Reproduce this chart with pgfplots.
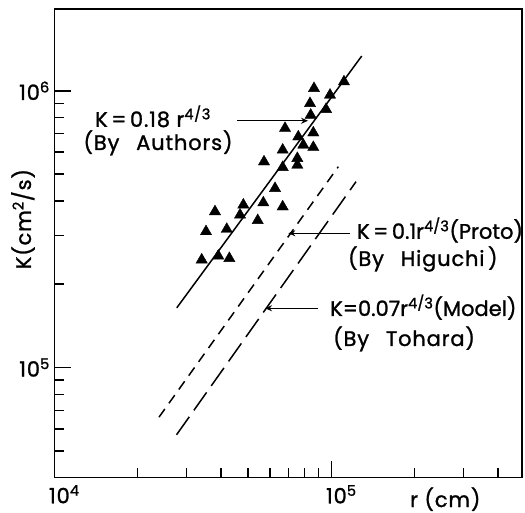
\documentclass[border=0pt]{standalone}
\usepackage{pgfplots}
\pgfplotsset{compat=1.18}
\usepackage{fontspec}
\setmainfont{Poppins}[LetterSpace=4, FakeBold=1.2]
\newfontfamily\tight{Poppins}[LetterSpace=0, FakeBold=1.2]
\usetikzlibrary{arrows.meta}

\pgfplotstableread{
r K
86590 1.020e6
98920 9.65e5
111100 1.078e6
83770 9.00e5
95700 8.57e5
84250 8.17e5
68070 7.32e5
86100 7.05e5
76010 6.82e5
79240 6.368e5
86100 6.248e5
66750 6.11e5
75390 5.70e5
75390 5.39e5
57150 5.54e5
66750 5.29e5
62630 4.44e5
56830 3.94e5
66750 3.81e5
48130 3.87e5
46820 3.56e5
54250 3.40e5
38030 3.66e5
35290 3.10e5
41930 3.16e5
39090 2.53e5
42840 2.48e5
34050 2.45e5
}\obs

\begin{document}
\begin{tikzpicture}[font=\fontsize{21}{25}\selectfont]
\begin{loglogaxis}[
  scale only axis, width=467.7pt, height=468.4pt,
  xmin=1e4, xmax=4.88e5, ymin=4e4, ymax=1.97e6,
  axis line style={line width=1.6pt},
  every tick/.style={line width=1.5pt, black},
  every minor tick/.style={line width=1.5pt, black},
  major tick length=17pt, minor tick length=10pt,
  tick pos=left, tick align=inside,
  xtick={1e4,1e5}, xticklabels={10\textsuperscript{4},10\textsuperscript{5}},
  ytick={1e5,1e6}, yticklabels={10\textsuperscript{5},10\textsuperscript{6}},
  minor xtick={2e4,3e4,4e4,5e4,6e4,7e4,8e4,9e4,2e5,3e5,4e5},
  minor ytick={5e4,6e4,7e4,8e4,9e4,2e5,3e5,4e5,5e5,6e5,7e5,8e5,9e5},
  xticklabel style={xshift=10pt, yshift=-4pt},
  yticklabel style={xshift=-1pt},
  clip=false,
]
\addplot[only marks, mark=triangle*, mark size=6.5pt, black] table[x=r, y=K] {\obs};
\addplot[black, line width=1.5pt] coordinates {(27670,164300) (128750,1.335e6)};
\addplot[black, line width=1.5pt, dash pattern=on 10pt off 7pt] coordinates {(23880,66210) (106000,531700)};
\addplot[black, line width=1.5pt, dash pattern=on 22pt off 8pt] coordinates {(27620,57150) (122800,469400)};

\node[anchor=base west, inner sep=0] at (rel axis cs:0.087,0.749) {K\,=\,0.18 r\textsuperscript{4/3}};
\node[anchor=base west, inner sep=0] at (rel axis cs:0.062,0.6996) {(By\hspace{0.8em}Authors)};
\draw[line width=1.3pt, -{Stealth[length=7pt,width=6pt]}] (rel axis cs:0.391,0.762) -- (rel axis cs:0.5425,0.762);

\node[anchor=base west, inner sep=0] at (rel axis cs:0.647,0.510) {\tight K\,=\,0.1r\textsuperscript{4/3}(Proto)};
\node[anchor=base west, inner sep=0] at (rel axis cs:0.6277,0.452) {(By\hspace{0.8em}Higuchi\,)};
\draw[line width=1.3pt, -{Stealth[length=7pt,width=6pt]}] (rel axis cs:0.632,0.5218) -- (rel axis cs:0.5003,0.5218);

\node[anchor=base west, inner sep=0] at (rel axis cs:0.5895,0.3453) {\tight K=0.07r\textsuperscript{4/3}(Model)};
\node[anchor=base west, inner sep=0] at (rel axis cs:0.5959,0.2812) {(By\hspace{0.8em}Tohara)};
\draw[line width=1.3pt, -{Stealth[length=7pt,width=6pt]}] (rel axis cs:0.5638,0.3617) -- (rel axis cs:0.4505,0.3617);

\node[rotate=90] at (rel axis cs:-0.067,0.552) {K(cm\textsuperscript{2}/s)};
\node[anchor=base west, inner sep=0] at (rel axis cs:0.7605,-0.0626) {r (cm)};
\end{loglogaxis}
\pgfresetboundingbox
\path (-54.3pt,-35.3pt) rectangle (470.7pt,477.7pt);
\end{tikzpicture}
\end{document}
